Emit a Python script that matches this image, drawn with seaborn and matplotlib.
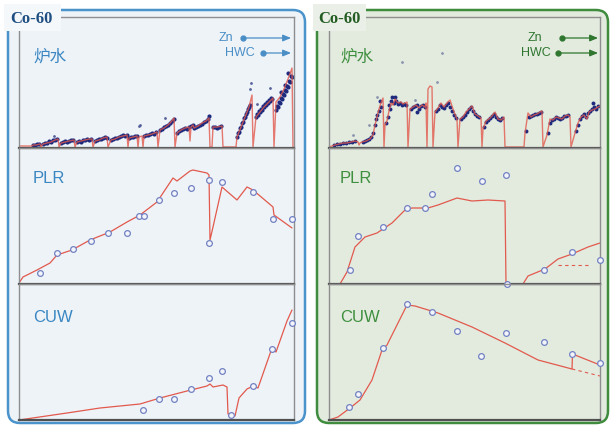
import matplotlib.pyplot as plt
import seaborn as sns
from matplotlib.patches import FancyBboxPatch, Rectangle

sns.set_theme(style='white')
plt.rcParams['font.family'] = ['Liberation Sans', 'Noto Sans CJK SC', 'DejaVu Sans']

# ---- 炉水 (左: Zn/HWC 前後) 赤線 ----
LW_L_X = [0, 13, 14, 17, 21, 22,
          24, 28, 32, 36, 39, 40,
          42, 46, 50, 55, 56,
          58, 62, 66, 70, 73, 74,
          76, 80, 84, 88, 89,
          92, 96, 100, 104, 108, 109,
          110, 114, 118, 119, 120, 123, 124,
          125, 129, 133, 138, 139,
          141, 145, 149, 152, 155, 156,
          158, 162, 166, 170, 171, 172, 174,
          175, 179, 183, 187, 190, 191, 193,
          194, 198, 203, 204, 217,
          218, 222, 226, 230, 233, 234,
          237, 241, 245, 249, 254, 255,
          257, 261, 265, 269, 273, 274]
LW_L_Y = [1, 1, 2, 2, 3, 0,
          3, 4, 5, 7, 8, 0,
          4, 5, 6, 7, 0,
          5, 6, 7, 8, 8, 0,
          6, 7, 9, 10, 0,
          7, 8, 10, 11, 12, 0,
          9, 10, 11, 0, 10, 11, 0,
          11, 12, 13, 15, 0,
          17, 19, 22, 25, 29, 0,
          14, 17, 19, 20, 6, 20, 22,
          19, 21, 24, 26, 29, 0, 0,
          20, 20, 21, 0, 0,
          10, 20, 30, 40, 52, 0,
          30, 35, 40, 44, 49, 0,
          45, 50, 58, 68, 79, 0]
# 炉水 (左) 測定点
LD_L_X = [14, 16, 18, 20,
          24, 26, 28, 30, 32, 34, 36, 38,
          42, 44, 46, 48, 50, 52, 54,
          58, 60, 62, 64, 66, 68, 70, 72,
          76, 78, 80, 82, 84, 86, 88,
          92, 94, 96, 98, 100, 102, 104, 106, 108,
          110, 112, 114, 116, 118,
          125, 127, 129, 131, 133, 135, 137,
          141, 143, 145, 147, 149, 151, 153, 155,
          158, 160, 162, 164, 166, 168, 170, 172, 174,
          175, 177, 179, 181, 183, 185, 187, 189, 190,
          194, 196, 198, 200, 202,
          218, 219, 220, 221, 222, 223, 224, 225, 226, 227, 228, 229, 230, 231,
          237, 238, 239, 240, 241, 242, 243, 244, 245, 246, 247, 248, 249, 250, 251, 252, 253,
          257, 258, 259, 260, 261, 262, 263, 264, 265, 266, 267, 268, 269, 270, 271, 272, 273, 262, 266, 269]
LD_L_Y = [2, 2, 3, 3,
          3, 4, 4, 6, 5, 7, 7, 8,
          4, 5, 6, 5, 6, 7, 7,
          5, 6, 5, 7, 7, 8, 7, 8,
          6, 7, 8, 8, 9, 10, 9,
          7, 8, 9, 9, 10, 11, 12, 11, 12,
          9, 10, 10, 11, 11,
          11, 12, 12, 13, 14, 13, 15,
          17, 18, 20, 21, 22, 24, 26, 28,
          14, 16, 17, 18, 19, 18, 20, 21, 22,
          19, 20, 21, 22, 23, 25, 26, 28, 31,
          20, 20, 19, 20, 21,
          10, 14, 15, 19, 20, 24, 25, 29, 30, 33, 35, 38, 40, 42,
          30, 33, 32, 36, 35, 38, 37, 41, 40, 43, 42, 45, 44, 47, 46, 49, 48,
          37, 41, 40, 45, 44, 49, 48, 53, 52, 57, 56, 61, 60, 66, 65, 71, 70, 55, 62, 74]
OUT_L_X = [35, 120, 121, 146, 231, 232, 251, 238]
OUT_L_Y = [11, 21, 22, 29, 58, 64, 59, 43]

# ---- 炉水 (右) ----
LW_R_X = [0, 3, 6, 10, 14, 18, 22, 26, 29, 30, 31,
          33, 37, 41, 44, 46, 48, 50, 52, 54, 55,
          56, 58, 60, 62, 64, 66, 68, 70, 72, 74, 76, 78, 79,
          81, 84, 87, 90, 93, 96, 97, 98, 99, 101, 103, 104,
          106, 109, 112, 115, 118, 121, 124, 127, 128, 129,
          131, 134, 137, 140, 143, 146, 149, 152, 153,
          154, 157, 160, 163, 166, 169, 172, 175, 176, 195,
          196, 199, 202, 205, 208, 211, 213, 214,
          218, 221, 224, 227, 230, 233, 236, 239, 241, 242,
          246, 249, 252, 255, 258, 260, 263, 266, 269, 271]
LW_R_Y = [0, 1, 2, 3, 4, 4, 5, 6, 5, 2, 4,
          5, 6, 8, 12, 22, 30, 38, 44, 49, 0,
          22, 26, 36, 44, 42, 48, 45, 44, 45, 43, 44, 45, 0,
          38, 40, 42, 39, 42, 40, 44, 0, 58, 61, 60, 0,
          35, 39, 44, 40, 44, 47, 38, 30, 28, 0,
          28, 30, 35, 38, 41, 33, 31, 29, 0,
          18, 26, 28, 31, 35, 28, 27, 30, 0, 0,
          14, 34, 30, 32, 33, 35, 36, 0,
          12, 28, 27, 30, 29, 28, 31, 32, 30, 0,
          14, 24, 30, 32, 28, 35, 37, 38, 40, 41]
LD_R_X = [5, 8, 11, 14, 17, 20, 23, 26,
          34, 36, 38, 40, 42, 44, 46, 47, 48, 50, 52, 51,
          57, 59, 61, 62, 63, 65, 67, 69, 71, 73, 75, 77, 66, 60,
          82, 84, 86, 88, 90, 92, 94, 96, 88,
          107, 109, 111, 113, 115, 117, 119, 121, 123, 125, 127,
          132, 134, 136, 138, 140, 142, 144, 146, 148, 150,
          155, 157, 159, 161, 163, 165, 167, 169, 171, 173,
          197, 200, 202, 204, 206, 208, 210, 212,
          219, 221, 223, 225, 227, 229, 231, 233, 235, 237, 239,
          247, 249, 251, 253, 255, 257, 259, 261, 263, 265, 267, 269, 264]
LD_R_Y = [2, 3, 3, 4, 4, 5, 5, 6,
          5, 6, 7, 8, 10, 14, 22, 28, 32, 36, 40, 46,
          24, 30, 38, 46, 50, 44, 46, 43, 44, 42, 43, 42, 50, 42,
          38, 40, 41, 42, 38, 41, 42, 40, 35,
          36, 38, 42, 40, 39, 42, 44, 40, 36, 32, 29,
          28, 30, 32, 35, 38, 40, 36, 33, 31, 30,
          20, 25, 27, 29, 31, 33, 30, 28, 27, 29,
          16, 30, 31, 32, 33, 33, 34, 35,
          14, 24, 27, 28, 30, 29, 28, 29, 31, 31, 32,
          16, 22, 28, 31, 33, 30, 34, 36, 38, 40, 38, 41, 44]
OUT_R_X = [24, 113, 73, 108, 48, 86, 40]
OUT_R_Y = [12, 94, 85, 65, 50, 47, 22]

# ---- PLR ----
PLR_L_X = [0, 4, 18, 31, 38, 53, 71, 91, 108, 121, 138, 154, 158, 171, 174,
           188, 190, 191, 194, 203, 218, 228, 234, 254, 255, 273]
PLR_L_Y = [1, 7, 14, 21, 29, 34, 44, 52, 62, 69, 82, 106, 103, 113, 114,
           111, 109, 44, 57, 97, 84, 97, 94, 77, 69, 56]
CP_L_X = [21, 38, 54, 72, 89, 108, 120, 125, 140, 155, 172, 190, 190, 203, 234, 254, 273]
CP_L_Y = [11, 31, 35, 43, 51, 51, 68, 68, 84, 91, 96, 104, 41, 102, 92, 65, 65]

PLR_R_X = [0, 11, 18, 26, 31, 36, 48, 63, 76, 83, 99, 109, 128, 143, 159, 176, 177,
           194, 199, 216, 229, 243, 259, 271]
PLR_R_Y = [0, 0, 12, 37, 42, 47, 51, 61, 74, 76, 76, 79, 86, 83, 84, 83, 0,
           0, 8, 15, 25, 30, 37, 41]
PLR_R_DX = [229, 259]
PLR_R_DY = [19, 19]
CP_R_X = [21, 29, 54, 78, 96, 103, 128, 153, 177, 178, 215, 243, 271]
CP_R_Y = [14, 48, 57, 76, 76, 90, 116, 103, 109, 0, 14, 32, 24]

# ---- CUW ----
CUW_L_X = [0, 48, 81, 121, 141, 168, 188, 191, 194, 204, 208, 209, 216, 220, 228,
           234, 239, 253, 257, 268, 273]
CUW_L_Y = [0, 7, 12, 16, 22, 29, 34, 36, 33, 35, 33, 6, 4, 22, 31,
           34, 32, 72, 68, 99, 110]
CC_L_X = [124, 140, 155, 172, 190, 203, 212, 234, 253, 273]
CC_L_Y = [10, 21, 21, 31, 42, 49, 5, 34, 71, 97]

CUW_R_X = [0, 9, 21, 31, 43, 53, 58, 78, 86, 109, 143, 176, 209, 243, 243.5, 271]
CUW_R_Y = [0, 3, 12, 20, 40, 70, 75, 115, 114, 107, 93, 77, 60, 51, 66, 55]
CUW_R_DX = [243, 271]
CUW_R_DY = [51, 44]
CC_R_X = [20, 29, 54, 78, 103, 128, 152, 177, 215, 243, 271]
CC_R_Y = [13, 26, 72, 116, 108, 89, 64, 87, 78, 66, 57]

ROW_NAMES = ['炉水', 'PLR', 'CUW']

W, H = 611, 425
RED = '#e2594d'
NAVY = '#1d2a7e'

fig = plt.figure(figsize=(W / 100, H / 100), dpi=100)
fig.patch.set_facecolor('white')

# 背景パネル
bg = fig.add_axes([0, 0, 1, 1], zorder=0)
bg.set_xlim(0, W)
bg.set_ylim(H, 0)
bg.axis('off')
bg.add_patch(FancyBboxPatch((8, 10), 297, 413, boxstyle='round,pad=0,rounding_size=12',
                            facecolor='#eef3f8', edgecolor='#4b93cb', lw=1.8))
bg.add_patch(FancyBboxPatch((317, 10), 291, 413, boxstyle='round,pad=0,rounding_size=12',
                            facecolor='#e3ebdf', edgecolor='#3f8c3f', lw=1.8))

rows = [(17, 148), (148, 284), (284, 420)]


def make_col(x0, x1, xmax):
    axs = []
    for i, (top, bot) in enumerate(rows):
        ax = fig.add_axes([x0 / W, 1 - bot / H, (x1 - x0) / W, (bot - top) / H], zorder=1)
        ax.patch.set_alpha(0)
        ax.set_xlim(0, xmax)
        ax.set_ylim(-1 if i == 0 else 0, bot - top - 1 if i == 0 else bot - top)
        ax.set_xticks([])
        ax.set_yticks([])
        for name, sp in ax.spines.items():
            sp.set_color('#8e8e8e')
            sp.set_linewidth(1.0)
        ax.spines['bottom'].set_color('#505050')
        ax.spines['bottom'].set_linewidth(1.6)
        axs.append(ax)
    return axs


def red_line(ax, xs, ys, lw=0.9, ls='-', alpha=1.0):
    sns.lineplot(x=xs, y=ys, sort=False, estimator=None, color=RED, linewidth=lw,
                 linestyle=ls, alpha=alpha, ax=ax)


def dots(ax, xs, ys, color, s):
    sns.scatterplot(x=xs, y=ys, color=color, s=s, linewidth=0, ax=ax, legend=False)


def circles(ax, xs, ys):
    sns.scatterplot(x=xs, y=ys, marker='o', s=17, color='#f3f5fb', edgecolor='#7281c2',
                    linewidth=0.9, ax=ax, legend=False, clip_on=False, zorder=4)


left = make_col(19, 294, 275)
right = make_col(329, 600, 271)

# 炉水
red_line(left[0], LW_L_X, LW_L_Y, lw=1.0, alpha=0.8)
dots(left[0], LD_L_X, LD_L_Y, NAVY, 9)
dots(left[0], OUT_L_X, OUT_L_Y, '#55609a', 4)
red_line(right[0], LW_R_X, LW_R_Y, lw=1.0, alpha=0.8)
dots(right[0], LD_R_X, LD_R_Y, NAVY, 8)
dots(right[0], OUT_R_X, OUT_R_Y, '#8a93ad', 4)

# PLR
red_line(left[1], PLR_L_X, PLR_L_Y)
circles(left[1], CP_L_X, CP_L_Y)
red_line(right[1], PLR_R_X, PLR_R_Y)
red_line(right[1], PLR_R_DX, PLR_R_DY, lw=0.8, ls=(0, (3, 3)))
circles(right[1], CP_R_X, CP_R_Y)

# CUW
red_line(left[2], CUW_L_X, CUW_L_Y)
circles(left[2], CC_L_X, CC_L_Y)
red_line(right[2], CUW_R_X, CUW_R_Y)
red_line(right[2], CUW_R_DX, CUW_R_DY, lw=0.8, ls=(0, (3, 3)))
circles(right[2], CC_R_X, CC_R_Y)

for ax in left + right:
    ax.set_xlabel('')
    ax.set_ylabel('')

# 文字・注記
ov = fig.add_axes([0, 0, 1, 1], zorder=3)
ov.set_xlim(0, W)
ov.set_ylim(H, 0)
ov.axis('off')

for x_text, col in [(33, '#3a87c2'), (340, '#3f8f3f')]:
    for name, yc in zip(ROW_NAMES, [57, 178, 317]):
        ov.text(x_text, yc, name, ha='left', va='center', fontsize=12, color=col)

# Co-60 ラベル
ov.add_patch(Rectangle((4, 4), 57, 27, facecolor='#f5f8fb', edgecolor='none'))
ov.text(10, 19, 'Co-60', ha='left', va='center', fontsize=12, fontweight='bold',
        family=['Liberation Serif'], color='#1f4f82')
ov.add_patch(Rectangle((313, 4), 53, 27, facecolor='#eaf0e7', edgecolor='none'))
ov.text(318, 19, 'Co-60', ha='left', va='center', fontsize=12, fontweight='bold',
        family=['Liberation Serif'], color='#235d23')

# Zn / HWC 矢印
for tx, dx, y, label, x_end, col in [(233, 243, 38, 'Zn', 291, '#4a8ec6'),
                                     (255, 263, 53, 'HWC', 291, '#4a8ec6'),
                                     (542, 562, 38, 'Zn', 598, '#2f762f'),
                                     (551, 558, 53, 'HWC', 598, '#2f762f')]:
    ov.text(tx, y, label, ha='right', va='center', fontsize=9, color=col)
    ov.plot([dx], [y], 'o', ms=3.5, color=col)
    ov.annotate('', xy=(x_end, y), xytext=(dx, y),
                arrowprops=dict(arrowstyle='-|>,head_length=0.6,head_width=0.25',
                                color=col, lw=0.9, shrinkA=0, shrinkB=0, mutation_scale=8))

fig.savefig('out.png', dpi=100)
